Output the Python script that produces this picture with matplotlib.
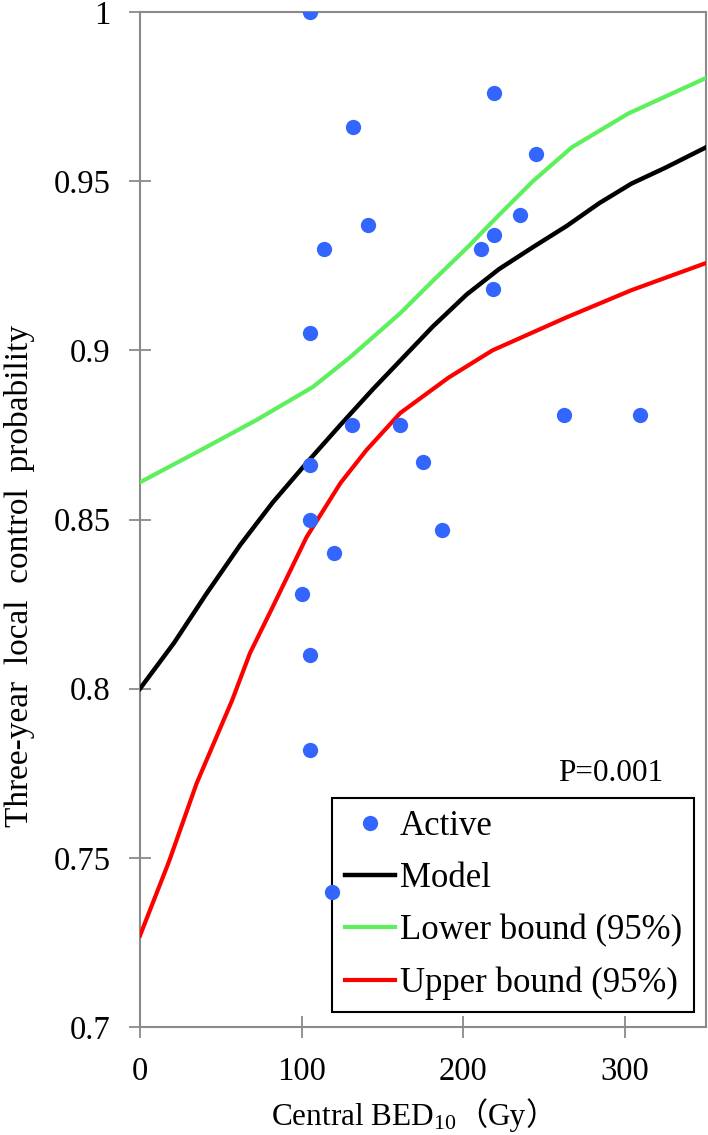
import numpy as np
import matplotlib.pyplot as plt

plt.rcParams['font.family'] = ['Liberation Serif', 'Noto Sans CJK JP', 'DejaVu Sans']
plt.rcParams['mathtext.fontset'] = 'custom'
plt.rcParams['mathtext.rm'] = 'Liberation Serif'
plt.rcParams['mathtext.it'] = 'Liberation Serif:italic'

# observed points (central BED10, 3-yr local control)
bed_active = [105, 132, 114, 105, 219, 245, 141, 235, 219, 211, 218, 131,
              105, 105, 120, 100, 105, 105, 161, 175, 187, 262, 309, 119]
lc_active = [1.000, 0.966, 0.930, 0.905, 0.976, 0.958, 0.937, 0.940, 0.934, 0.930, 0.918, 0.878,
             0.866, 0.850, 0.840, 0.828, 0.810, 0.782, 0.878, 0.867, 0.847, 0.881, 0.881, 0.740]

# model curve and bounds
model_x = [0, 21, 41, 62, 82, 103, 124, 144, 161, 181, 202, 222, 243, 264, 284, 304, 325, 350]
model_y = [0.800, 0.8135, 0.828, 0.8425, 0.855, 0.8667, 0.878, 0.8885, 0.897, 0.907, 0.9165,
           0.924, 0.9305, 0.9368, 0.9435, 0.9493, 0.954, 0.960]

lower_x = [0, 41, 72, 107, 130, 161, 181, 202, 222, 243, 267, 302, 350]
lower_y = [0.861, 0.8714, 0.8794, 0.8892, 0.898, 0.911, 0.9205, 0.9302, 0.940, 0.950,
           0.960, 0.970, 0.9805]

upper_x = [0, 18, 35, 57, 68, 82, 103, 124, 140, 161, 191, 218, 264, 304, 350]
upper_y = [0.727, 0.749, 0.772, 0.7966, 0.8105, 0.8241, 0.8448, 0.8608, 0.8705, 0.8815,
           0.892, 0.900, 0.9098, 0.9178, 0.9258]

yticks = [0.7, 0.75, 0.8, 0.85, 0.9, 0.95, 1.0]
ytick_labels = ['0.7', '0.75', '0.8', '0.85', '0.9', '0.95', '1']
xticks = [0, 100, 200, 300]

grey = '#8a8a8a'

fig = plt.figure(figsize=(7.08, 11.35), dpi=100)
ax = fig.add_axes([140/708, 1 - 1027/1135, 566/708, 1015/1135])

ax.plot(model_x, model_y, color='black', lw=3.2, label='Model', zorder=3)
ax.plot(lower_x, lower_y, color='#5cf05c', lw=3.0, label='Lower bound (95%)', zorder=3)
ax.plot(upper_x, upper_y, color='#ff0000', lw=3.0, label='Upper bound (95%)', zorder=3)
ax.plot(bed_active, lc_active, 'o', color='#3366ff', ms=11, mec='none',
        label='Active', zorder=6)

ax.set_xlim(0, 350)
ax.set_ylim(0.7, 1.0)
ax.set_xticks(xticks)
ax.set_xticklabels([str(v) for v in xticks])
ax.set_yticks(yticks)
ax.set_yticklabels(ytick_labels)

for s in ax.spines.values():
    s.set_color(grey)
    s.set_linewidth(1.5)
ax.tick_params(direction='inout', length=16, width=1.3, color=grey,
               labelsize=23.5, labelcolor='black', pad=13)

handles, labels = ax.get_legend_handles_labels()
order = [3, 0, 1, 2]
leg = ax.legend([handles[i] for i in order], [labels[i] for i in order],
                loc='lower right', bbox_to_anchor=(0.979, 0.0148),
                borderaxespad=0, fontsize=25, fancybox=False, framealpha=1,
                edgecolor='black', handlelength=1.44, handletextpad=0.15,
                labelspacing=0.55, borderpad=0.35, numpoints=1)
leg.get_frame().set_linewidth(1.5)
leg.set_zorder(5)

ax.text(0.924, 0.250, 'P=0.001', transform=ax.transAxes, ha='right',
        va='center', fontsize=22.5)

fig.text(20/708, 1 - 576/1135, 'Three-year  local  control  probability',
         rotation=90, ha='center', va='center', fontsize=24)

# x label: serif part with subscript, then full-width brackets
fig.canvas.draw()
r = fig.canvas.get_renderer()
yb = 1 - 1125/1135
cjk = ['Noto Sans CJK JP', 'DejaVu Sans']
parts = [fig.text(0, yb, 'Central BED$_{10}$', va='baseline', fontsize=22.5),
         fig.text(0, yb, '（', va='baseline', fontsize=22.5, family=cjk),
         fig.text(0, yb, 'Gy', va='baseline', fontsize=22.5),
         fig.text(0, yb, '）', va='baseline', fontsize=22.5, family=cjk)]
widths = [p.get_window_extent(r).width for p in parts]
x = 414 - sum(widths) / 2
for p, w in zip(parts, widths):
    p.set_x(x / 708)
    x += w

fig.savefig('out.png', dpi=100)
